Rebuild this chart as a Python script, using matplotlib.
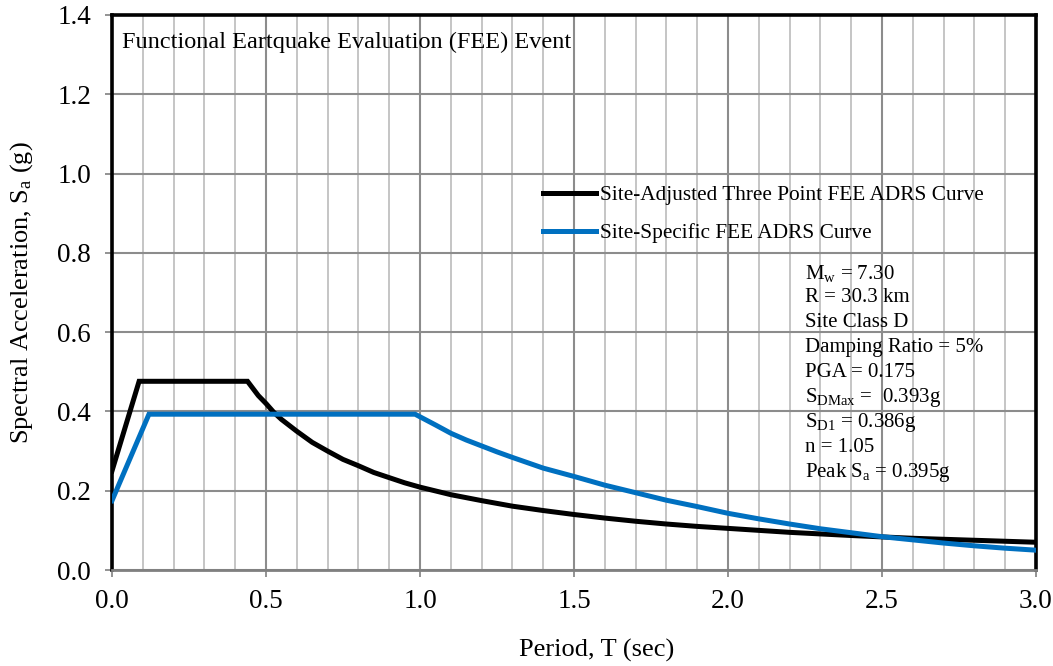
import matplotlib
matplotlib.use("Agg")
import matplotlib.pyplot as plt
from matplotlib.ticker import MultipleLocator, FormatStrFormatter
import matplotlib.transforms as mtransforms

plt.rcParams['font.family'] = ['Liberation Serif', 'DejaVu Serif']
plt.rcParams['mathtext.fontset'] = 'custom'
plt.rcParams['mathtext.rm'] = 'Liberation Serif'
plt.rcParams['mathtext.it'] = 'Liberation Serif:italic'

# Site-Adjusted Three Point FEE ADRS Curve (black)
t_three = [0.0, 0.088, 0.44, 0.475, 0.5, 0.525, 0.55, 0.6, 0.65, 0.7, 0.75, 0.8, 0.85,
           0.9, 0.95, 1.0, 1.1, 1.2, 1.3, 1.4, 1.5, 1.6, 1.7, 1.8, 1.9, 2.0, 2.2, 2.4,
           2.6, 2.8, 3.0]
sa_three = [0.25, 0.476, 0.476, 0.440, 0.420, 0.398, 0.380, 0.350, 0.322, 0.300, 0.279,
            0.263, 0.246, 0.233, 0.220, 0.209, 0.190, 0.175, 0.161, 0.150, 0.140,
            0.131, 0.123, 0.116, 0.110, 0.105, 0.095, 0.087, 0.080, 0.075, 0.070]

# Site-Specific FEE ADRS Curve (blue)
t_site = [0.0, 0.12, 0.984, 1.05, 1.1, 1.15, 1.2, 1.25, 1.3, 1.4, 1.5, 1.6, 1.7, 1.8,
          1.9, 2.0, 2.1, 2.2, 2.3, 2.4, 2.5, 2.6, 2.7, 2.8, 2.9, 3.0]
sa_site = [0.175, 0.393, 0.393, 0.366, 0.345, 0.328, 0.313, 0.298, 0.284, 0.257, 0.236,
           0.214, 0.195, 0.176, 0.160, 0.143, 0.129, 0.116, 0.104, 0.094, 0.084,
           0.076, 0.068, 0.061, 0.055, 0.050]

series_labels = ["Site-Adjusted Three Point FEE ADRS Curve", "Site-Specific FEE ADRS Curve"]
title_text = "Functional Eartquake Evaluation (FEE) Event"
info_lines = [r"M$_\mathrm{w}$ = 7.30", "R = 30.3 km", "Site Class D", "Damping Ratio = 5%",
              "PGA = 0.175", r"S$_\mathrm{DMax}$ =  0.393g", r"S$_\mathrm{D1}$ = 0.386g",
              "n = 1.05", r"Peak S$_\mathrm{a}$ = 0.395g"]

fig = plt.figure(figsize=(10.53, 6.66), dpi=100)
ax = fig.add_axes([112/1053, 1-570/666, 924/1053, 555/666])

ax.set_xlim(0, 3.0)
ax.set_ylim(0, 1.4)
ax.xaxis.set_major_locator(MultipleLocator(0.5))
ax.xaxis.set_minor_locator(MultipleLocator(0.1))
ax.yaxis.set_major_locator(MultipleLocator(0.2))
ax.xaxis.set_major_formatter(FormatStrFormatter('%.1f'))
ax.yaxis.set_major_formatter(FormatStrFormatter('%.1f'))

ax.grid(which='minor', axis='x', color='#c0c0c0', lw=1.3, zorder=0)
ax.grid(which='major', axis='x', color='#8c8c8c', lw=1.5, zorder=0)
ax.grid(which='major', axis='y', color='#8c8c8c', lw=1.5, zorder=0)
ax.set_axisbelow(True)

ax.plot(t_three, sa_three, color='black', lw=3.6, label=series_labels[0], zorder=3,
        solid_joinstyle='miter')
ax.plot(t_site, sa_site, color='#0070C0', lw=3.6, label=series_labels[1], zorder=4,
        solid_joinstyle='miter')

for s in ['left', 'top', 'right']:
    ax.spines[s].set_color('black')
    ax.spines[s].set_linewidth(2.6)
ax.spines['bottom'].set_color('#808080')
ax.spines['bottom'].set_linewidth(2.0)

ax.tick_params(axis='both', which='major', direction='out', length=5, width=1.2,
               color='#808080', labelsize=19.5)
ax.tick_params(axis='y', which='major', pad=10)
ax.tick_params(axis='x', which='major', pad=9)
ax.tick_params(axis='x', which='minor', length=0)

ax.set_xlabel("Period, T (sec)", fontsize=19)
ax.set_ylabel(r"Spectral Acceleration, S$_\mathrm{a}$ (g)", fontsize=19)
ax.xaxis.set_label_coords(0.524, -0.124)
ax.yaxis.set_label_coords(-0.083, 0.5)

ax.text(0.011, 0.951, title_text, transform=ax.transAxes, fontsize=17.5,
        ha='left', va='center')

leg = ax.legend(loc='upper left', bbox_to_anchor=(0.4573, 0.708), frameon=False,
                fontsize=15.3, handlelength=2.5, handletextpad=0.2, labelspacing=0.83,
                borderaxespad=0)

for i, line in enumerate(info_lines):
    trans = mtransforms.offset_copy(ax.transAxes, fig=fig, x=0, y=-i * 24.9, units='dots')
    ax.text(0.75, 0.535, line, transform=trans, fontsize=15, ha='left', va='center')

fig.savefig("out.png", dpi=100)
